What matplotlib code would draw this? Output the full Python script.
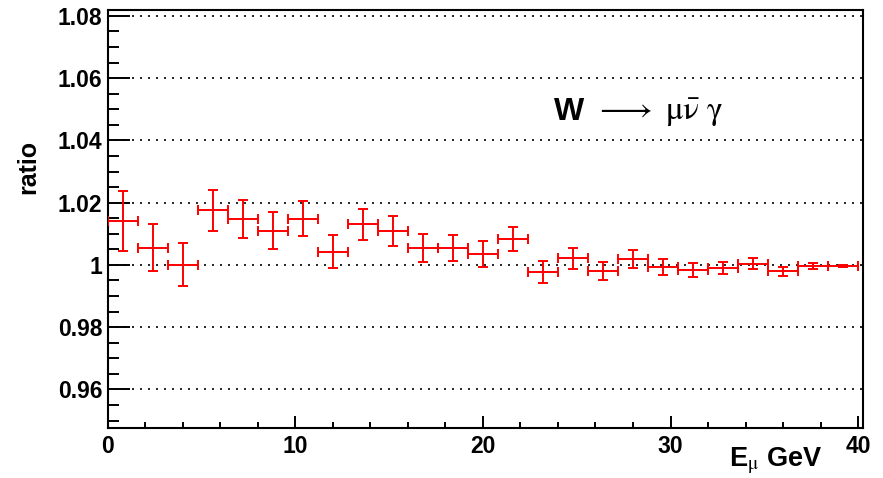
import matplotlib
matplotlib.use('Agg')
import matplotlib.pyplot as plt
from matplotlib.ticker import MultipleLocator, FuncFormatter

plt.rcParams['font.family'] = ['Liberation Sans', 'DejaVu Sans']
plt.rcParams['mathtext.fontset'] = 'stix'

# muon energy bins (GeV), 1.6 GeV wide
e_mu = [0.8, 2.4, 4.0, 5.6, 7.2, 8.8, 10.4, 12.0, 13.6, 15.2, 16.8, 18.4, 20.0,
        21.6, 23.2, 24.8, 26.4, 28.0, 29.6, 31.2, 32.8, 34.4, 36.0, 37.6, 39.2]
half_width = [0.8] * 25

ratio = [1.0142, 1.0055, 1.0001, 1.0175, 1.0148, 1.0110, 1.0149, 1.0043, 1.0130,
         1.0108, 1.0054, 1.0054, 1.0036, 1.0083, 0.9978, 1.0021, 0.9980, 1.0020,
         0.9993, 0.9983, 0.9990, 1.0004, 0.9979, 0.9997, 0.9996]
ratio_err = [0.0096, 0.0075, 0.0070, 0.0066, 0.0062, 0.0059, 0.0057, 0.0053, 0.0050,
             0.0048, 0.0046, 0.0043, 0.0042, 0.0039, 0.0036, 0.0034, 0.0030, 0.0029,
             0.0025, 0.0023, 0.0020, 0.0017, 0.0015, 0.0010, 0.0004]

y_major = [0.96, 0.98, 1.00, 1.02, 1.04, 1.06, 1.08]
x_major = [0, 10, 20, 30, 40]

fig = plt.figure(figsize=(8.83, 4.78), dpi=100)
ax = fig.add_axes([0.1223, 0.1046, 0.8547, 0.8745])

ax.errorbar(e_mu, ratio, xerr=half_width, yerr=ratio_err, fmt='none',
            ecolor='#ff0000', elinewidth=1.4, capsize=3.5, capthick=1.4, zorder=3)

ax.set_xlim(0, 40.25)
ax.set_ylim(0.9476, 1.0819)

ax.set_yticks(y_major)
ax.set_xticks(x_major)
ax.yaxis.set_minor_locator(MultipleLocator(0.005))
ax.xaxis.set_minor_locator(MultipleLocator(2))
ax.yaxis.set_major_formatter(FuncFormatter(lambda v, p: '%g' % round(v, 3)))

ax.tick_params(axis='y', which='major', direction='in', length=16, width=1.4,
               labelsize=16.5, pad=4, left=True, right=False)
ax.tick_params(axis='y', which='minor', direction='in', length=8, width=1.4,
               left=True, right=False)
ax.tick_params(axis='x', which='major', direction='in', length=8.5, width=1.4,
               labelsize=16.5, pad=5, bottom=True, top=False)
ax.tick_params(axis='x', which='minor', direction='in', length=4.5, width=1.4,
               bottom=True, top=False)
for lbl in ax.get_xticklabels() + ax.get_yticklabels():
    lbl.set_fontweight('bold')

for s in ax.spines.values():
    s.set_linewidth(1.5)

ax.grid(axis='y', which='major', color='black', linewidth=1.2,
        linestyle=(0, (1.2, 3.6)))
ax.set_axisbelow(True)

ax.text(-0.106, 0.624, 'ratio', transform=ax.transAxes, rotation=90,
        ha='center', va='center', fontsize=18, fontweight='bold')
ax.text(0.946, -0.043, r'E$_{\mathrm{\mu}}$ GeV', transform=ax.transAxes,
        ha='right', va='top', fontsize=19.5, fontweight='bold')

# process label: bold W, then arrow and greek letters in a serif math font
ax.text(23.8, 1.0466, 'W', ha='left', va='baseline', fontsize=23, fontweight='bold')
ax.text(26.0, 1.0466, r'$\longrightarrow\ \mathrm{\mu}\bar{\mathrm{\nu}}\ \mathrm{\gamma}$',
        ha='left', va='baseline', fontsize=24)

fig.savefig('out.png', dpi=100)
